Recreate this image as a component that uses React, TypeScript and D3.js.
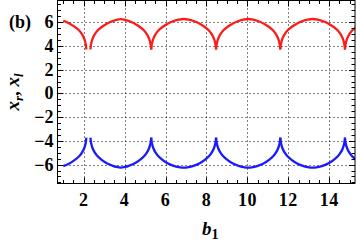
import React from "react";
import * as d3 from "d3";

const W = 357;
const H = 241;

// Tick values
const xTicks = [2, 4, 6, 8, 10, 12, 14];
const yTicks = [-6, -4, -2, 0, 2, 4, 6];

// Red series x_r: arcs between cusps, [b1, x_r]
const redArcs: [number, number][][] = [
  [[1.0, 6.15], [1.3, 5.9], [1.55, 5.63], [1.78, 5.3], [1.93, 4.95], [2.03, 4.6], [2.1, 4.15], [2.13, 3.7]],
  [[2.33, 3.7], [2.36, 4.15], [2.43, 4.6], [2.53, 4.95], [2.68, 5.3], [2.88, 5.6], [3.13, 5.88], [3.43, 6.1], [3.6, 6.2], [3.82, 6.26], [4.03, 6.2], [4.2, 6.1], [4.5, 5.88], [4.75, 5.6], [4.95, 5.3], [5.1, 4.95], [5.2, 4.6], [5.27, 4.15], [5.3, 3.7]],
  [[5.3, 3.7], [5.33, 4.15], [5.4, 4.6], [5.5, 4.95], [5.65, 5.3], [5.85, 5.6], [6.1, 5.88], [6.4, 6.1], [6.65, 6.22], [6.89, 6.27], [7.13, 6.22], [7.37, 6.1], [7.67, 5.88], [7.92, 5.6], [8.12, 5.3], [8.27, 4.95], [8.37, 4.6], [8.44, 4.15], [8.47, 3.7]],
  [[8.47, 3.7], [8.5, 4.15], [8.57, 4.6], [8.67, 4.95], [8.82, 5.3], [9.02, 5.6], [9.27, 5.88], [9.57, 6.1], [9.8, 6.22], [10.04, 6.27], [10.28, 6.22], [10.51, 6.1], [10.81, 5.88], [11.06, 5.6], [11.26, 5.3], [11.41, 4.95], [11.51, 4.6], [11.58, 4.15], [11.61, 3.7]],
  [[11.61, 3.7], [11.64, 4.15], [11.71, 4.6], [11.81, 4.95], [11.96, 5.3], [12.16, 5.6], [12.41, 5.88], [12.71, 6.1], [12.95, 6.22], [13.19, 6.27], [13.43, 6.22], [13.67, 6.1], [13.97, 5.88], [14.22, 5.6], [14.42, 5.3], [14.57, 4.95], [14.67, 4.6], [14.74, 4.15], [14.77, 3.7]],
  [[14.77, 3.7], [14.8, 4.15], [14.87, 4.6], [14.97, 4.95], [15.12, 5.3], [15.3, 5.58]],
];

// Blue series x_l
const blueArcs: [number, number][][] = [
  [[1.0, -6.12], [1.3, -5.9], [1.55, -5.62], [1.78, -5.3], [1.93, -4.95], [2.03, -4.6], [2.1, -4.15], [2.13, -3.72]],
  [[2.33, -3.72], [2.36, -4.15], [2.43, -4.6], [2.53, -4.95], [2.68, -5.3], [2.88, -5.6], [3.13, -5.88], [3.43, -6.1], [3.6, -6.19], [3.82, -6.25], [4.03, -6.19], [4.2, -6.1], [4.5, -5.88], [4.75, -5.6], [4.95, -5.3], [5.1, -4.95], [5.2, -4.6], [5.27, -4.15], [5.3, -3.72]],
  [[5.3, -3.72], [5.33, -4.15], [5.4, -4.6], [5.5, -4.95], [5.65, -5.3], [5.85, -5.6], [6.1, -5.88], [6.4, -6.1], [6.65, -6.21], [6.89, -6.26], [7.13, -6.21], [7.37, -6.1], [7.67, -5.88], [7.92, -5.6], [8.12, -5.3], [8.27, -4.95], [8.37, -4.6], [8.44, -4.15], [8.47, -3.72]],
  [[8.47, -3.72], [8.5, -4.15], [8.57, -4.6], [8.67, -4.95], [8.82, -5.3], [9.02, -5.6], [9.27, -5.88], [9.57, -6.1], [9.8, -6.21], [10.04, -6.26], [10.28, -6.21], [10.51, -6.1], [10.81, -5.88], [11.06, -5.6], [11.26, -5.3], [11.41, -4.95], [11.51, -4.6], [11.58, -4.15], [11.61, -3.72]],
  [[11.61, -3.72], [11.64, -4.15], [11.71, -4.6], [11.81, -4.95], [11.96, -5.3], [12.16, -5.6], [12.41, -5.88], [12.71, -6.1], [12.95, -6.21], [13.19, -6.26], [13.43, -6.21], [13.67, -6.1], [13.97, -5.88], [14.22, -5.6], [14.42, -5.3], [14.57, -4.95], [14.67, -4.6], [14.74, -4.15], [14.77, -3.72]],
  [[14.77, -3.72], [14.8, -4.15], [14.87, -4.6], [14.97, -4.95], [15.12, -5.3], [15.3, -5.58]],
];

const L = 57.5, R = 355, T = 0.5, B = 183.5;

export default function App() {
  const x = d3.scaleLinear().domain([0.72, 15.26]).range([L, R]);
  const y = d3.scaleLinear().domain([-7.59, 7.83]).range([B, T]);
  const line = d3
    .line<[number, number]>()
    .x((d) => x(d[0]))
    .y((d) => y(d[1]))
    .curve(d3.curveCatmullRom.alpha(0.5));

  const xMinor = d3.range(1, 15.3, 0.5).filter((v) => !xTicks.includes(v));
  const yMinor = d3.range(-7.5, 7.8, 0.5).filter((v) => !yTicks.includes(v));
  const font = "Liberation Serif, Times New Roman, DejaVu Serif, serif";

  return (
    <svg
      width={W}
      height={H}
      style={{ position: "absolute", left: 0, top: 0, background: "#fff" }}
    >
      <defs>
        <clipPath id="plotclip">
          <rect x={L} y={T} width={R - L} height={B - T} />
        </clipPath>
      </defs>
      {/* grid */}
      <g stroke="#000" strokeWidth={1} strokeDasharray="1,3">
        {xTicks.map((t) => (
          <line key={"gx" + t} x1={Math.round(x(t)) + 0.5} x2={Math.round(x(t)) + 0.5} y1={T} y2={B} />
        ))}
        {yTicks.map((t) => (
          <line key={"gy" + t} x1={L} x2={R} y1={Math.round(y(t)) + 0.5} y2={Math.round(y(t)) + 0.5} />
        ))}
      </g>
      {/* curves */}
      <g clipPath="url(#plotclip)" fill="none" strokeWidth={2.3} strokeLinejoin="round">
        {redArcs.map((a, i) => (
          <path key={"r" + i} d={line(a) || ""} stroke="#ff1a1a" />
        ))}
        {blueArcs.map((a, i) => (
          <path key={"b" + i} d={line(a) || ""} stroke="#1a1aff" />
        ))}
      </g>
      {/* frame */}
      <rect x={L} y={T} width={R - L} height={B - T} fill="none" stroke="#000" strokeWidth={1} />
      {/* ticks */}
      <g stroke="#000" strokeWidth={1}>
        {xTicks.map((t) => (
          <g key={"tx" + t}>
            <line x1={Math.round(x(t)) + 0.5} x2={Math.round(x(t)) + 0.5} y1={B} y2={B - 6} />
            <line x1={Math.round(x(t)) + 0.5} x2={Math.round(x(t)) + 0.5} y1={T} y2={T + 6} />
          </g>
        ))}
        {xMinor.map((t) => (
          <g key={"mx" + t}>
            <line x1={Math.round(x(t)) + 0.5} x2={Math.round(x(t)) + 0.5} y1={B} y2={B - 3.5} />
            <line x1={Math.round(x(t)) + 0.5} x2={Math.round(x(t)) + 0.5} y1={T} y2={T + 3.5} />
          </g>
        ))}
        {yTicks.map((t) => (
          <g key={"ty" + t}>
            <line x1={L} x2={L + 6} y1={Math.round(y(t)) + 0.5} y2={Math.round(y(t)) + 0.5} />
            <line x1={R} x2={R - 6} y1={Math.round(y(t)) + 0.5} y2={Math.round(y(t)) + 0.5} />
          </g>
        ))}
        {yMinor.map((t) => (
          <g key={"my" + t}>
            <line x1={L} x2={L + 3.5} y1={Math.round(y(t)) + 0.5} y2={Math.round(y(t)) + 0.5} />
            <line x1={R} x2={R - 3.5} y1={Math.round(y(t)) + 0.5} y2={Math.round(y(t)) + 0.5} />
          </g>
        ))}
      </g>
      {/* tick labels */}
      <g fontFamily={font} fontWeight="bold" fontSize={18} fill="#000">
        {xTicks.map((t) => (
          <text key={"lx" + t} x={x(t)} y={206} textAnchor="middle" letterSpacing={0.5}>
            {t}
          </text>
        ))}
        {yTicks.map((t) => (
          <text key={"ly" + t} x={53.5} y={y(t) + 6} textAnchor="end">
            {t < 0 ? "\u2212" + Math.abs(t) : String(t)}
          </text>
        ))}
      </g>
      {/* panel label */}
      <text x={9} y={28} fontFamily={font} fontWeight="bold" fontSize={18}>
        (b)
      </text>
      {/* axis titles */}
      <text x={(L + R) / 2 + 4} y={235} textAnchor="middle" fontFamily={font} fontWeight="bold" fontSize={19}>
        <tspan fontStyle="italic">b</tspan>
        <tspan fontSize={14} dy={4}>1</tspan>
      </text>
      <text
        transform={`translate(19,${(T + B) / 2}) rotate(-90)`}
        textAnchor="middle"
        fontFamily={font}
        fontWeight="bold"
        fontSize={19}
      >
        <tspan fontStyle="italic">x</tspan>
        <tspan fontStyle="italic" fontSize={13} dy={4}>r</tspan>
        <tspan dy={-4}>, </tspan>
        <tspan fontStyle="italic">x</tspan>
        <tspan fontStyle="italic" fontSize={13} dy={4}>l</tspan>
      </text>
    </svg>
  );
}
